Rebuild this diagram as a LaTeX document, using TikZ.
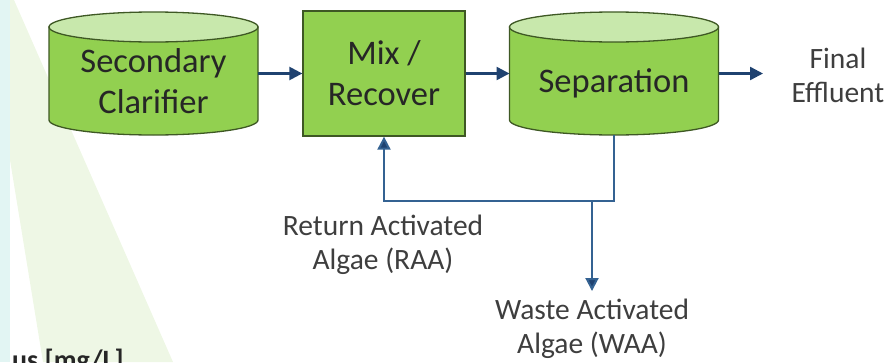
\documentclass[tikz,border=0pt]{standalone}
\usepackage{fontspec}
\setmainfont{Carlito}
\usetikzlibrary{arrows.meta}
\definecolor{boxgreen}{RGB}{146,208,80}
\definecolor{endgreen}{RGB}{200,232,172}
\definecolor{edgegreen}{RGB}{62,88,36}
\definecolor{flownavy}{RGB}{31,66,112}
\definecolor{loopblue}{RGB}{52,98,146}
\definecolor{txtdark}{RGB}{38,38,38}
\definecolor{txtgray}{RGB}{62,62,62}
\definecolor{bgcyan}{RGB}{226,245,243}
\definecolor{bggreen}{RGB}{238,247,229}
\newcommand\drawcyl[1]{%
  \path[cylbody] ([yshift=-15pt]#1.north west) -- ([yshift=15pt]#1.south west)
    arc[start angle=180, end angle=360, x radius=104.5pt, y radius=15pt]
    -- ([yshift=-15pt]#1.north east) -- cycle;
  \path[cylend] ([yshift=-15pt]#1.north) ellipse [x radius=104.5pt, y radius=15pt];}
\begin{document}
\begin{tikzpicture}[x=1pt,y=1pt,
  cylnode/.style={minimum width=209pt, minimum height=123pt, inner sep=0pt, outer sep=0pt},
  cylbody/.style={fill=boxgreen, draw=edgegreen, line width=1.3pt},
  cylend/.style={fill=endgreen, draw=edgegreen, line width=1.3pt},
  boxtext/.style={font=\fontsize{34.5}{41}\selectfont, text=txtdark, align=center, inner sep=0pt},
  labeltext/.style={font=\fontsize{29.5}{34}\selectfont, text=txtgray, align=center, inner sep=0pt},
  mixbox/.style={draw=edgegreen, fill=boxgreen, line width=1.3pt, minimum width=162pt, minimum height=125pt, boxtext},
  flow/.style={draw=flownavy, line width=2.4pt, -{Triangle[length=13pt,width=13pt]}},
  returnline/.style={draw=loopblue, line width=2pt, -{Triangle[length=13pt,width=13pt,fill=flownavy]}},
]
\useasboundingbox (0,0) rectangle (892,-362);
% faint background of the screenshot
\fill[bgcyan] (0,0) rectangle (10,-362);
\fill[bggreen] (10,0) -- (14,0) -- (173,-362) -- (43,-362) -- (10,-160) -- cycle;
\begin{scope}
  \clip (0,0) rectangle (892,-362);
  \node[anchor=base west, inner sep=0pt, font=\fontsize{28}{30}\selectfont\bfseries, text=txtdark] (axis) at (12,-369) {us [mg/L]};
\end{scope}

% Secondary clarifier
\node[cylnode] (sc) at (153.5,-73.5) {};
\drawcyl{sc}
\node[boxtext] (sctext) at (153.5,-81) {Secondary\\Clarifier};

% Mix / Recover
\node[mixbox] (mix) at (384,-73.5) {Mix /\\Recover};

% Separation
\node[cylnode] (sep) at (614,-73.5) {};
\drawcyl{sep}
\node[boxtext] (septext) at (614,-83) {Separation};

% Final effluent
\node[labeltext] (fe) at (838,-75) {Final\\Effluent};
\coordinate (feend) at (763,-73.5);

% labels
\node[labeltext] (raa) at (383,-244.5) {Return Activated\\Algae (RAA)};
\node[labeltext, inner ysep=8pt] (waa) at (592,-329) {Waste Activated\\Algae (WAA)};

% connectors
\draw[flow] (sc.east) -- (mix.west);
\draw[flow] (mix.east) -- (sep.west);
\draw[flow] (sep.east) -- (feend);
\coordinate (rbend) at (614,-201);
\coordinate (junc) at (592,-201);
\draw[returnline] (sep.south) -- (rbend) -| (mix.south);
\draw[returnline] (junc) -- (waa.north);
\end{tikzpicture}
\end{document}
